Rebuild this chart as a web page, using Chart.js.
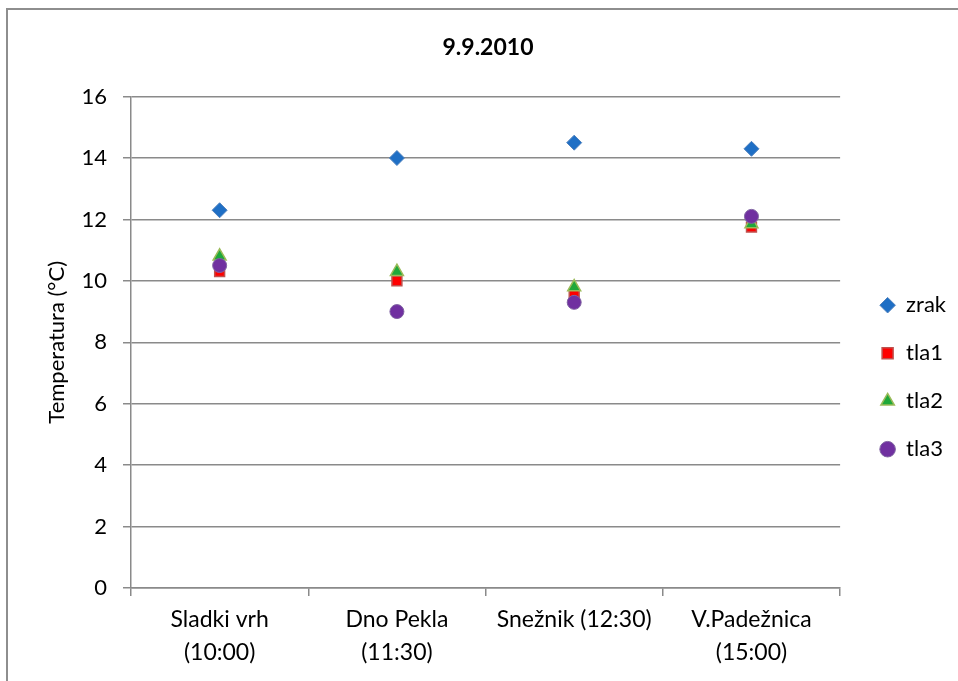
<!DOCTYPE html>
<html>
<head>
<meta charset="utf-8">
<script src="https://cdn.jsdelivr.net/npm/chart.js@4.4.0/dist/chart.umd.min.js"></script>
<style>
  html, body { margin: 0; padding: 0; background: #fff; overflow: hidden; width: 958px; height: 681px; }
  #frame { position: absolute; left: 6px; top: 8px; width: 966px; height: 700px; border: 2px solid #8e8e8e; box-sizing: border-box; background: #fff; }
  #wrap { position: absolute; left: 2px; top: 2px; width: 962px; height: 690px; }
</style>
</head>
<body>
<div id="frame"><div id="wrap"><canvas id="c"></canvas></div></div>
<script>
// Sampling sites with local time of measurement
const categories = [["Sladki vrh", "(10:00)"], ["Dno Pekla", "(11:30)"], ["Snežnik (12:30)"], ["V.Padežnica", "(15:00)"]];
// Temperatures (°C): air and three soil depths
const zrak = [12.3, 14.0, 14.5, 14.3];
const tla1 = [10.3, 10.0, 9.55, 11.75];
const tla2 = [10.8, 10.3, 9.8, 11.85];
const tla3 = [10.5, 9.0, 9.3, 12.1];
const yTicks = [0, 2, 4, 6, 8, 10, 12, 14, 16];

const FONT = "Lato, 'Open Sans', sans-serif";
const GRID = '#8a8a8a';

new Chart(document.getElementById('c'), {
  type: 'line',
  data: {
    labels: categories,
    datasets: [
      { label: 'zrak', data: zrak, showLine: false, pointStyle: 'rectRot', pointRadius: 7.5, pointHoverRadius: 7.5,
        backgroundColor: '#1f6fc5', borderColor: '#4f81bd', pointBorderWidth: 1, order: 4 },
      { label: 'tla1', data: tla1, showLine: false, pointStyle: 'rect', pointRadius: 7, pointHoverRadius: 7,
        backgroundColor: '#ff0000', borderColor: '#c0504d', pointBorderWidth: 1.5, order: 3 },
      { label: 'tla2', data: tla2, showLine: false, pointStyle: 'triangle', pointRadius: 7.5, pointHoverRadius: 7.5,
        backgroundColor: '#1fa83a', borderColor: '#9bbb59', pointBorderWidth: 1.5, order: 2 },
      { label: 'tla3', data: tla3, showLine: false, pointStyle: 'circle', pointRadius: 7, pointHoverRadius: 7,
        backgroundColor: '#7030a0', borderColor: '#8064a2', pointBorderWidth: 1, order: 1 }
    ]
  },
  options: {
    responsive: true,
    maintainAspectRatio: false,
    animation: false,
    layout: { padding: { left: 10, right: 16, bottom: 0, top: 0 } },
    plugins: {
      title: {
        display: true, text: '9.9.2010', color: '#000',
        font: { family: FONT, size: 23, weight: 'bold' },
        padding: { top: 22, bottom: 35 }
      },
      legend: {
        position: 'right',
        title: { display: true, text: ' ', font: { size: 12 }, padding: { top: 26, bottom: 0 } },
        labels: {
          usePointStyle: true, boxWidth: 15, boxHeight: 11, padding: 26, color: '#000',
          font: { family: FONT, size: 22 },
          sort: (a, b) => a.datasetIndex - b.datasetIndex
        }
      },
      tooltip: { enabled: false }
    },
    scales: {
      x: {
        offset: true,
        afterFit: (s) => { s.height = 114; },
        grid: { offset: true, drawOnChartArea: false, drawTicks: true, tickLength: 8, color: GRID, lineWidth: 1.5 },
        border: { color: GRID, width: 1.5 },
        ticks: { color: '#000', font: { family: FONT, size: 23, lineHeight: 1.45 }, padding: 7, maxRotation: 0, autoSkip: false }
      },
      y: {
        min: 0, max: 16,
        afterFit: (s) => { s.width = 111; },
        afterBuildTicks: (axis) => { axis.ticks = yTicks.map(v => ({ value: v })); },
        grid: { color: GRID, lineWidth: 1.5, tickLength: 8 },
        border: { color: GRID, width: 1.5 },
        ticks: { color: '#000', font: { family: FONT, size: 22 }, padding: 16 },
        title: { display: true, text: 'Temperatura (°C)', color: '#000', font: { family: FONT, size: 22 }, padding: { top: 24, bottom: 0 } }
      },
      // empty right-hand axis that keeps the legend clear of the plot
      gap: {
        position: 'right', display: true,
        afterFit: (s) => { s.width = 14; },
        grid: { display: false, drawTicks: false },
        border: { display: false },
        ticks: { display: false }
      }
    }
  }
});
</script>
</body>
</html>
